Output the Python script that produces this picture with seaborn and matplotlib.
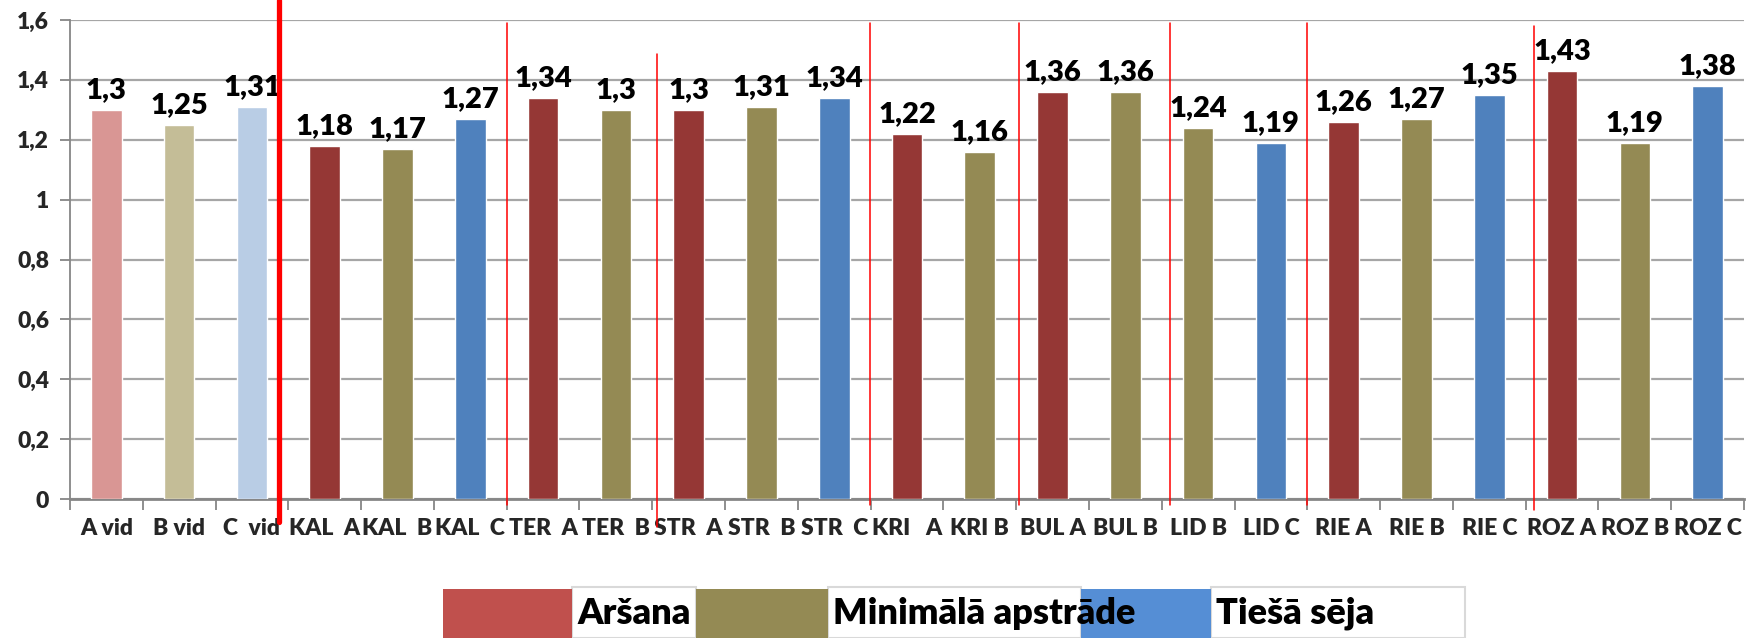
import matplotlib
matplotlib.use("Agg")
import matplotlib.pyplot as plt
import seaborn as sns
import pandas as pd
from matplotlib.patches import Rectangle
from matplotlib.ticker import FixedLocator

# ---- data ----
categories = ["A vid", "B vid", "C  vid", "KAL  A", "KAL  B", "KAL  C", "TER  A", "TER  B",
              "STR  A", "STR  B", "STR  C", "KRI   A", "KRI B", "BUL A", "BUL B", "LID B",
              "LID C", "RIE A", "RIE B", "RIE C", "ROZ A", "ROZ B", "ROZ C"]
values = [1.30, 1.25, 1.31, 1.18, 1.17, 1.27, 1.34, 1.30, 1.30, 1.31, 1.34, 1.22, 1.16,
          1.36, 1.36, 1.24, 1.19, 1.26, 1.27, 1.35, 1.43, 1.19, 1.38]
bar_colors = ["#D99694", "#C4BD97", "#B9CDE5",
              "#953735", "#948A54", "#4F81BD",
              "#953735", "#948A54",
              "#953735", "#948A54", "#4F81BD",
              "#953735", "#948A54",
              "#953735", "#948A54",
              "#948A54", "#4F81BD",
              "#953735", "#948A54", "#4F81BD",
              "#953735", "#948A54", "#4F81BD"]
y_ticks = [0, 0.2, 0.4, 0.6, 0.8, 1.0, 1.2, 1.4, 1.6]
legend_labels = ["Aršana", "Minimālā apstrāde", "Tiešā sēja"]
legend_colors = ["#C0504D", "#948A54", "#558ED5"]
# separator lines: (x position in category units, top, bottom, width)
separators = [(2.37, 1.667, -0.077, 3.8), (5.51, 1.59, -0.02, 1.1), (7.56, 1.487, -0.094, 1.1),
              (10.49, 1.59, -0.02, 1.1), (12.54, 1.59, -0.02, 1.1), (14.62, 1.59, -0.02, 1.1),
              (16.5, 1.59, -0.02, 1.1), (19.61, 1.58, -0.037, 1.1)]

def fmt(v):
    return f"{v:g}".replace(".", ",")

sns.set_theme(style="white")
plt.rcParams["font.family"] = ["Lato", "DejaVu Sans"]
WEIGHT = "heavy"

W, H = 1759, 638
fig = plt.figure(figsize=(W / 100, H / 100), dpi=100)
ax = fig.add_axes([70 / W, 1 - 499 / H, (1744 - 70) / W, (499 - 20) / H])

df = pd.DataFrame({"cat": categories, "val": values})
sns.barplot(data=df, x="cat", y="val", hue="cat", palette=bar_colors, legend=False,
            width=0.42, ax=ax, saturation=1, zorder=3)

for cont in ax.containers:
    ax.bar_label(cont, labels=[fmt(b.get_height()) for b in cont], padding=5,
                 fontsize=21, fontweight=WEIGHT, color="black")

ax.set_xlim(-0.5, len(categories) - 0.5)
ax.set_ylim(0, 1.6)
ax.set_yticks(y_ticks)
ax.set_yticklabels([fmt(t) for t in y_ticks], fontsize=16.5, fontweight=WEIGHT)
ax.yaxis.grid(True, color="#A6A6A6", linewidth=1.6, zorder=0)
ax.set_axisbelow(True)
ax.tick_params(axis="y", length=7, width=1.3, color="#868686", left=True, pad=8)

ax.set_xticks(range(len(categories)))
ax.set_xticklabels(categories, fontsize=16.5, fontweight=WEIGHT)
ax.xaxis.set_minor_locator(FixedLocator([i - 0.5 for i in range(len(categories) + 1)]))
ax.tick_params(axis="x", which="major", length=0, pad=14)
ax.tick_params(axis="x", which="minor", length=8, width=1.3, color="#868686", bottom=True)
ax.set_xlabel("")
ax.set_ylabel("")
for s in ["top", "right"]:
    ax.spines[s].set_visible(False)
ax.spines["left"].set_color("#868686")
ax.spines["left"].set_linewidth(1.3)
ax.spines["bottom"].set_color("#868686")
ax.spines["bottom"].set_linewidth(2)

for xs, top, bot, lw in separators:
    ax.plot([xs, xs], [bot, top], color="#FF0000", linewidth=lw, clip_on=False, zorder=5)

# ---- legend (Excel-style blocks) ----
patch_x = [443, 696, 1081]
text_x = [572, 828, 1211]
text_end = [696, 1081, 1465]
ytop = 589
for lab, col, px, tx, te in zip(legend_labels, legend_colors, patch_x, text_x, text_end):
    fig.patches.append(Rectangle((tx / W, 0), (te - tx) / W, (H - ytop + 2) / H,
                                 transform=fig.transFigure, facecolor="white",
                                 edgecolor="#D9D9D9", linewidth=1.5))
    fig.patches.append(Rectangle((px / W, 0), (tx - px) / W, (H - ytop) / H,
                                 transform=fig.transFigure, facecolor=col, edgecolor="none"))
    fig.text((tx + 5) / W, 1 - 613 / H, lab, fontsize=26, fontweight=WEIGHT,
             va="center", ha="left", color="black")

fig.savefig("out.png", dpi=100)
